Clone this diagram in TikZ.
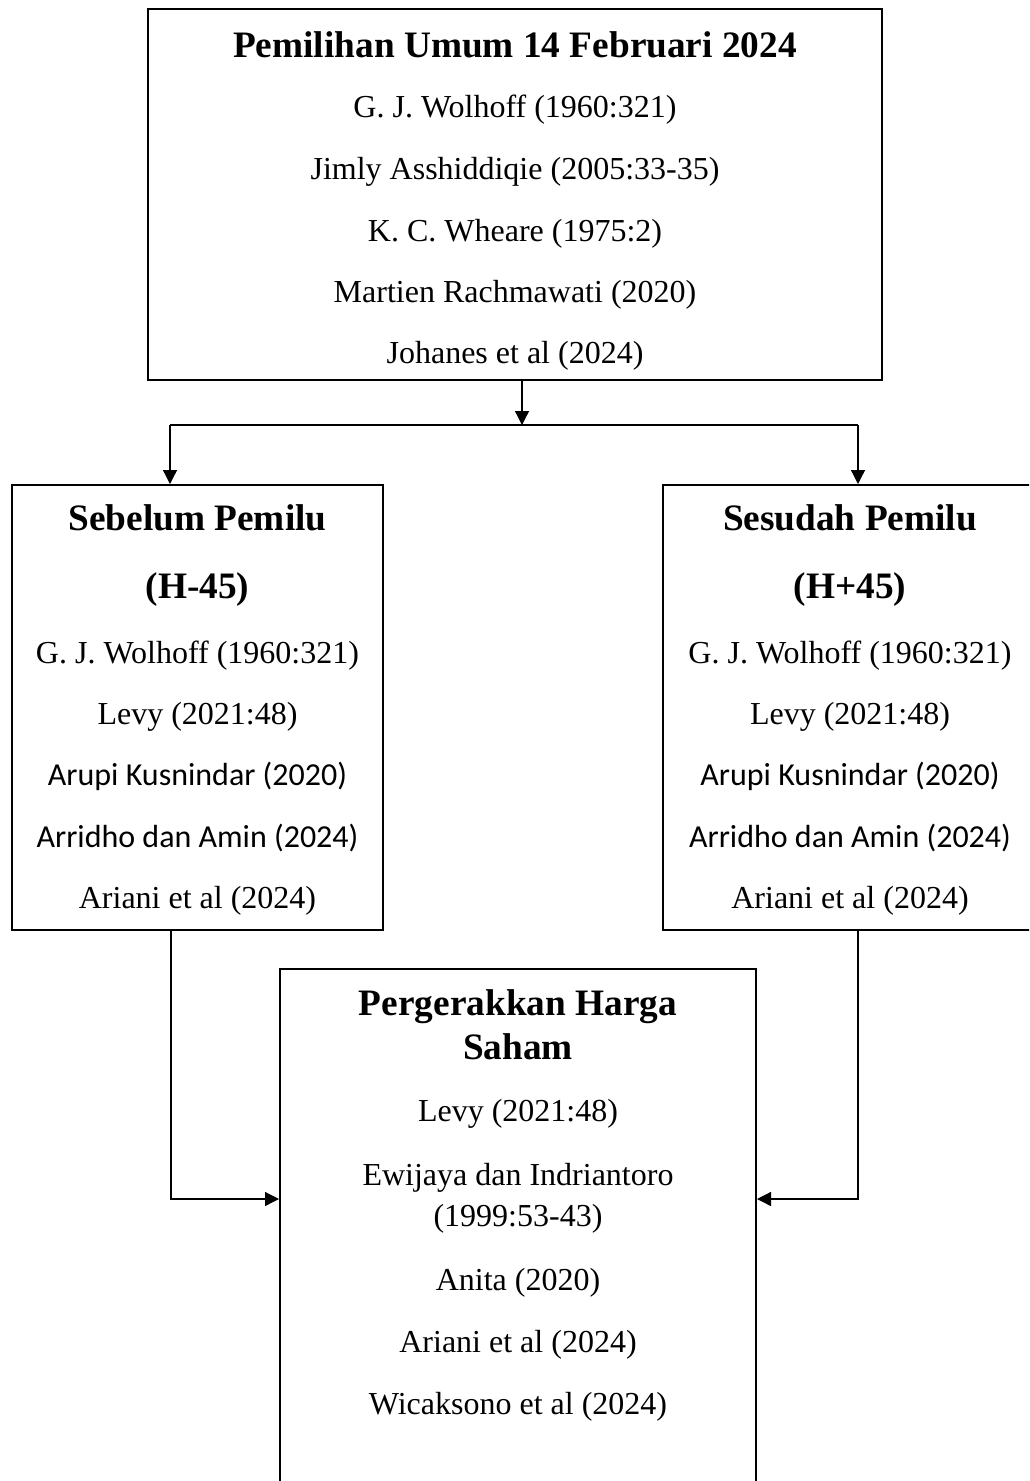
\documentclass[tikz,border=0pt]{standalone}
\usepackage{fontspec}
\setmainfont{Liberation Serif}
\newfontfamily\calib{Carlito}
\usetikzlibrary{arrows.meta}
\tikzset{
  box/.style={draw=black, line width=2pt, fill=none, inner sep=0pt, rectangle},
  conn/.style={draw=black, line width=1.3pt},
  arr/.style={conn, -{Triangle[length=14pt,width=14pt]}},
  txt/.style={anchor=base, inner sep=0pt, font=\fontsize{32}{38}\selectfont},
  ctxt/.style={anchor=base, inner sep=0pt, font=\calib\fontsize{32}{38}\selectfont},
  head/.style={anchor=base, inner sep=0pt, font=\bfseries\fontsize{37.3}{44}\selectfont}
}
\begin{document}
\begin{tikzpicture}[x=1pt,y=-1pt]
\useasboundingbox (0,0) rectangle (1029,1481);
\clip (0,0) rectangle (1029,1481);
\fill[white] (0,0) rectangle (1029,1481);
% boxes
\node[box, minimum width=734pt, minimum height=371pt] (top) at (515,194.5) {};
\node[box, minimum width=371pt, minimum height=445pt] (left) at (197.5,707.5) {};
\node[box, minimum width=374pt, minimum height=445pt] (right) at (850,707.5) {};
\node[box, minimum width=476pt, minimum height=531pt] (bottom) at (518,1234.5) {};
% top texts
\node[head] (t0) at (515,57) {Pemilihan Umum 14 Februari 2024};
\node[txt] (t1) at (515,117) {G. J. Wolhoff (1960:321)};
\node[txt] (t2) at (515,179) {Jimly Asshiddiqie (2005:33-35)};
\node[txt] (t3) at (515,241) {K. C. Wheare (1975:2)};
\node[txt] (t4) at (515,302) {Martien Rachmawati (2020)};
\node[txt] (t5) at (515,363) {Johanes et al (2024)};
% left texts
\node[head] (l0) at (197.5,530) {Sebelum Pemilu};
\node[head] (l1) at (197.5,598) {(H-45)};
\node[txt] (l2) at (197.5,663) {G. J. Wolhoff (1960:321)};
\node[txt] (l3) at (197.5,724) {Levy (2021:48)};
\node[ctxt] (l4) at (197.5,785) {Arupi Kusnindar (2020)};
\node[ctxt] (l5) at (197.5,847) {Arridho dan Amin (2024)};
\node[txt] (l6) at (197.5,908) {Ariani et al (2024)};
% right texts
\node[head] (r0) at (850,530) {Sesudah Pemilu};
\node[head] (r1) at (850,598) {(H+45)};
\node[txt] (r2) at (850,663) {G. J. Wolhoff (1960:321)};
\node[txt] (r3) at (850,724) {Levy (2021:48)};
\node[ctxt] (r4) at (850,785) {Arupi Kusnindar (2020)};
\node[ctxt] (r5) at (850,847) {Arridho dan Amin (2024)};
\node[txt] (r6) at (850,908) {Ariani et al (2024)};
% bottom texts
\node[head] (b0) at (518,1015) {Pergerakkan Harga};
\node[head] (b1) at (518,1059) {Saham};
\node[txt] (b2) at (518,1121) {Levy (2021:48)};
\node[txt] (b3) at (518,1185) {Ewijaya dan Indriantoro};
\node[txt] (b4) at (518,1226) {(1999:53-43)};
\node[txt] (b5) at (518,1290) {Anita (2020)};
\node[txt] (b6) at (518,1352) {Ariani et al (2024)};
\node[txt] (b7) at (518,1414) {Wicaksono et al (2024)};
% connectors
\coordinate (j) at (522,425);
\coordinate (jl) at (170,425);
\coordinate (jr) at (858,425);
\coordinate (bl) at (171,1199);
\coordinate (br) at (858,1199);
\draw[arr] (top.south -| j) -- (j);
\draw[conn] (jl) -- (jr);
\draw[arr] (jl) -- (jl |- left.north);
\draw[arr] (jr) -- (jr |- right.north);
\draw[arr] (bl |- left.south) -- (bl) -- (bottom.west |- bl);
\draw[arr] (br |- right.south) -- (br) -- (bottom.east |- br);
\end{tikzpicture}
\end{document}
